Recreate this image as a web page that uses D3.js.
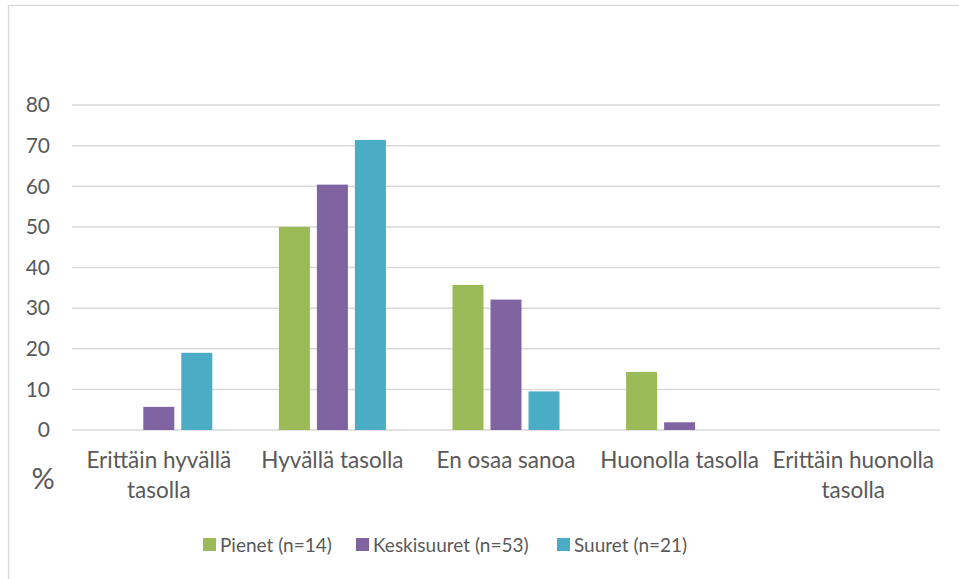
<!DOCTYPE html>
<html>
<head>
<meta charset="utf-8">
<script src="https://cdn.jsdelivr.net/npm/d3@7"></script>
<style>
  body { margin: 0; background: #fff; }
  text { font-family: Lato, "Liberation Sans", sans-serif; fill: #595959; }
</style>
</head>
<body>
<div id="chart-container"></div>
<script>
// categories and series (percent of respondents)
const categories = [["Erittäin hyvällä", "tasolla"], ["Hyvällä tasolla"], ["En osaa sanoa"], ["Huonolla tasolla"], ["Erittäin huonolla", "tasolla"]];
const seriesNames = ["Pienet (n=14)", "Keskisuuret (n=53)", "Suuret (n=21)"];
const pienet = [0, 50, 35.7, 14.3, 0];
const keskisuuret = [5.7, 60.4, 32.1, 1.9, 0];
const suuret = [19.0, 71.4, 9.5, 0, 0];
const yTicks = [0, 10, 20, 30, 40, 50, 60, 70, 80];
const colors = ["#9bbb59", "#8064a2", "#4bacc6"];

const W = 959, H = 579;
const margin = { top: 105, right: 19, bottom: 149, left: 72 };
const width = W - margin.left - margin.right;
const height = H - margin.top - margin.bottom;

const svg = d3.select("#chart-container").append("svg")
  .attr("width", W).attr("height", H);

// chart frame
svg.append("rect")
  .attr("x", 8.5).attr("y", 5.5).attr("width", W + 10).attr("height", H + 10)
  .attr("fill", "none").attr("stroke", "#d9d9d9").attr("stroke-width", 1.5);

const g = svg.append("g").attr("transform", `translate(${margin.left},${margin.top})`);

const x = d3.scaleBand().domain(d3.range(categories.length)).range([0, width]);
const y = d3.scaleLinear().domain([0, 80]).range([height, 0]);

// gridlines
g.selectAll(".grid").data(yTicks).join("line")
  .attr("x1", 0).attr("x2", width)
  .attr("y1", d => y(d)).attr("y2", d => y(d))
  .attr("stroke", "#d9d9d9").attr("stroke-width", 1.5);

// y tick labels
g.selectAll(".ytick").data(yTicks).join("text")
  .attr("x", -22).attr("y", d => y(d)).attr("dy", "0.35em")
  .attr("text-anchor", "end").style("font-size", "21px")
  .text(d => d);

// bars
const seriesData = [pienet, keskisuuret, suuret];
const barW = 31, barStep = 38;
seriesData.forEach((vals, si) => {
  g.selectAll(".bar" + si).data(vals).join("rect")
    .attr("x", (d, i) => x(i) + x.bandwidth() / 2 + (si - 1) * barStep - barW / 2)
    .attr("y", d => y(d))
    .attr("width", barW)
    .attr("height", d => y(0) - y(d))
    .attr("fill", colors[si]);
});

// category labels
const cat = g.selectAll(".cat").data(categories).join("text")
  .attr("text-anchor", "middle").style("font-size", "22.5px")
  .attr("transform", (d, i) => `translate(${x(i) + x.bandwidth() / 2},${height + 38})`);
cat.selectAll("tspan").data(d => d).join("tspan")
  .attr("x", 0).attr("y", (d, i) => i * 30)
  .text(d => d);

// axis unit
svg.append("text").attr("x", 43).attr("y", 489)
  .attr("text-anchor", "middle").style("font-size", "29px").text("%");

// legend
const legendX = [203, 356, 557];
const lg = svg.selectAll(".legend").data(seriesNames).join("g")
  .attr("transform", (d, i) => `translate(${legendX[i]},538)`);
lg.append("rect").attr("width", 13).attr("height", 13).attr("fill", (d, i) => colors[i]);
lg.append("text").attr("x", 17).attr("y", 7).attr("dy", "0.35em")
  .style("font-size", "19px").text(d => d);
</script>
</body>
</html>
